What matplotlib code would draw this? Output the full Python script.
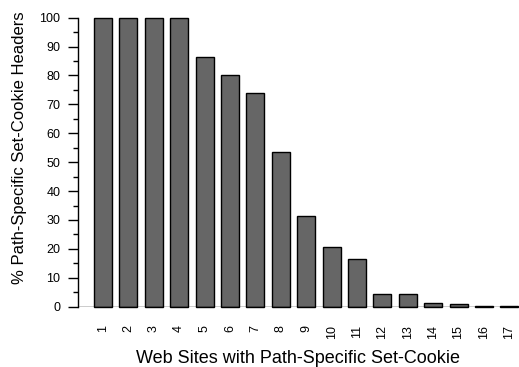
import numpy as np
import matplotlib
matplotlib.use("Agg")
import matplotlib.pyplot as plt

plt.rcParams['font.family'] = ['Liberation Sans', 'DejaVu Sans']

# share of Set-Cookie headers that carry a path attribute, per site
sites = [str(i) for i in range(1, 18)]
pct = [100, 100, 100, 99.8, 86.3, 80.2, 74.0, 53.4, 31.4, 20.6, 16.6,
       4.4, 4.3, 1.4, 0.8, 0.3, 0.2]

fig = plt.figure(figsize=(5.19, 3.67), dpi=100)
ax = fig.add_axes([0.1495, 0.1643, 1 - 0.1495, 0.7875])

x = np.arange(1, len(pct) + 1)
ax.bar(x, pct, width=0.71, color='#666666', edgecolor='black', linewidth=1.0,
       clip_on=False, zorder=3)
ax.axhline(0, color='black', linewidth=1.0, zorder=4)

ax.set_xlim(0, 17.38)
ax.set_ylim(0, 100)

for s in ['top', 'right', 'bottom']:
    ax.spines[s].set_visible(False)
ax.spines['left'].set_linewidth(1.0)

ax.set_yticks(np.arange(0, 101, 10))
ax.set_yticks(np.arange(5, 100, 10), minor=True)
ax.tick_params(axis='y', which='major', length=7, width=1.0, labelsize=9, pad=5.5)
ax.tick_params(axis='y', which='minor', length=3.6, width=1.0)

ax.set_xticks(x)
ax.set_xticklabels(sites, rotation=90, va='top', ha='center')
ax.tick_params(axis='x', length=0, labelsize=9, pad=13)

ax.set_xlabel('Web Sites with Path-Specific Set-Cookie', fontsize=13, labelpad=8)
ax.set_ylabel('% Path-Specific Set-Cookie Headers', fontsize=12)
ax.yaxis.set_label_coords(-0.114, 0.55)

fig.savefig('out.png', dpi=100)
